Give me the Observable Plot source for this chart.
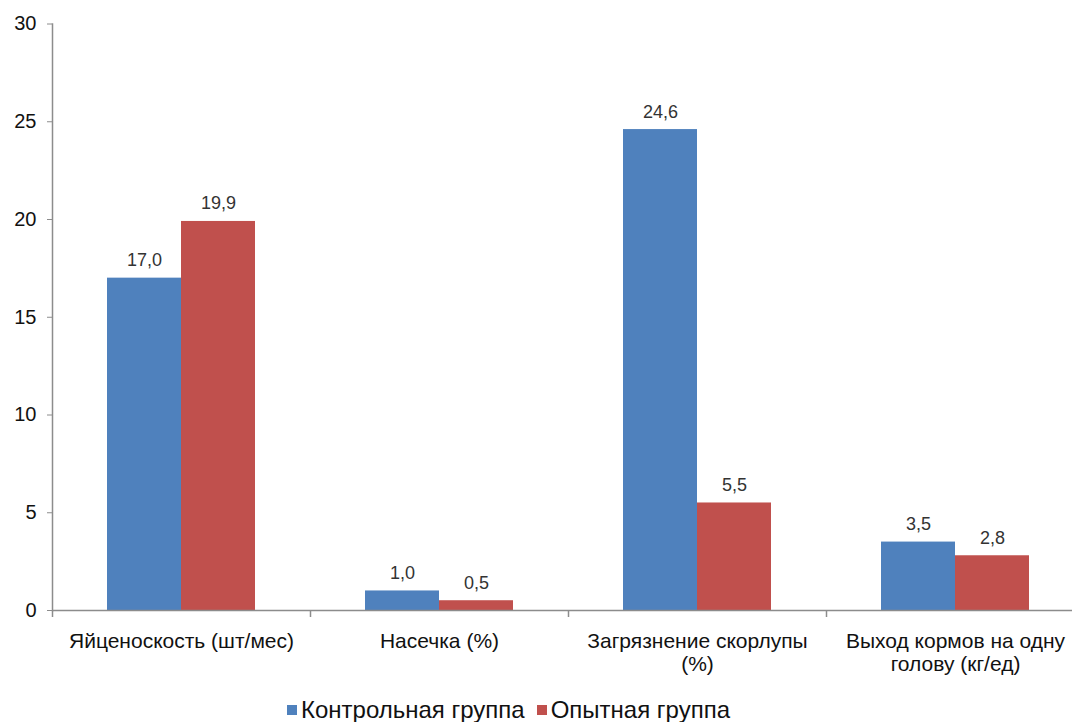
<!DOCTYPE html>
<html>
<head>
<meta charset="utf-8">
<script src="https://cdn.jsdelivr.net/npm/d3@7"></script>
<script src="https://cdn.jsdelivr.net/npm/@observablehq/plot@0.6"></script>
<style>
  html, body { margin: 0; padding: 0; background: #fff; width: 1072px; height: 722px; overflow: hidden; }
  #chart { position: relative; width: 1072px; height: 722px; overflow: hidden; font-family: "Liberation Sans", Arial, sans-serif; }
  #chart svg { display: block; max-width: none !important; }
  .legend { position: absolute; left: 287px; top: 698px; height: 24px; display: flex; align-items: center; font-size: 24px; color: #111; white-space: nowrap; }
  .legend .item { display: flex; align-items: center; margin-right: 12px; }
  .legend .sw { width: 10px; height: 10px; margin-right: 4px; }
</style>
</head>
<body>
<div id="chart"></div>
<script>
const categories = ["Яйценоскость (шт/мес)", "Насечка (%)", "Загрязнение скорлупы\n(%)", "Выход кормов на одну\nголову (кг/ед)"];
const groups = ["Контрольная группа", "Опытная группа"];
const control = [17.0, 1.0, 24.6, 3.5];
const experimental = [19.9, 0.5, 5.5, 2.8];
const yTicks = [0, 5, 10, 15, 20, 25, 30];
const colors = ["#4F81BD", "#C0504D"];

const rows = [];
categories.forEach((c, i) => {
  rows.push({category: c, group: groups[0], value: control[i]});
  rows.push({category: c, group: groups[1], value: experimental[i]});
});
const fmt = v => v.toFixed(1).replace(".", ",");
const gray = "#8c8c8c";
const W = 1084, ML = 52;
const halfBand = (W - ML) / categories.length / 2;

const chart = Plot.plot({
  width: W,
  height: 698,
  marginLeft: ML,
  marginRight: 0,
  marginTop: 23.5,
  marginBottom: 88,
  style: {fontFamily: "'Liberation Sans', Arial, sans-serif", background: "transparent", overflow: "visible", maxWidth: "none"},
  fx: {domain: categories, padding: 0, label: null},
  x: {domain: groups, paddingInner: 0, paddingOuter: 0.743, axis: null},
  y: {domain: [0, 30], axis: null},
  color: {domain: groups, range: colors},
  marks: [
    Plot.barY(rows, {fx: "category", x: "group", y: "value", fill: "group"}),
    Plot.text(rows, {fx: "category", x: "group", y: "value", text: d => fmt(d.value), lineAnchor: "bottom", dy: -12, fontSize: 18, fill: "#333"}),
    Plot.ruleY([0], {stroke: gray, strokeWidth: 1.5}),
    Plot.frame({anchor: "left", facetAnchor: "left", stroke: gray, strokeWidth: 1.5}),
    Plot.axisY({ticks: yTicks, tickSize: 5, tickPadding: 11, tickFormat: d => String(d), fontSize: 20, stroke: gray, fill: "#111", label: null}),
    Plot.axisFx({anchor: "bottom", tickSize: 0, tickPadding: 21, fontSize: 21, lineHeight: 1.1, fill: "#111", label: null}),
    Plot.axisFx({anchor: "bottom", tickSize: 7, text: null, dx: -halfBand, stroke: gray, strokeWidth: 1.5, label: null})
  ]
});

const root = document.getElementById("chart");
root.appendChild(chart);
const legend = document.createElement("div");
legend.className = "legend";
groups.forEach((g, i) => {
  const item = document.createElement("div");
  item.className = "item";
  const sw = document.createElement("span");
  sw.className = "sw";
  sw.style.background = colors[i];
  const label = document.createElement("span");
  label.textContent = g;
  item.appendChild(sw);
  item.appendChild(label);
  legend.appendChild(item);
});
root.appendChild(legend);
</script>
</body>
</html>
